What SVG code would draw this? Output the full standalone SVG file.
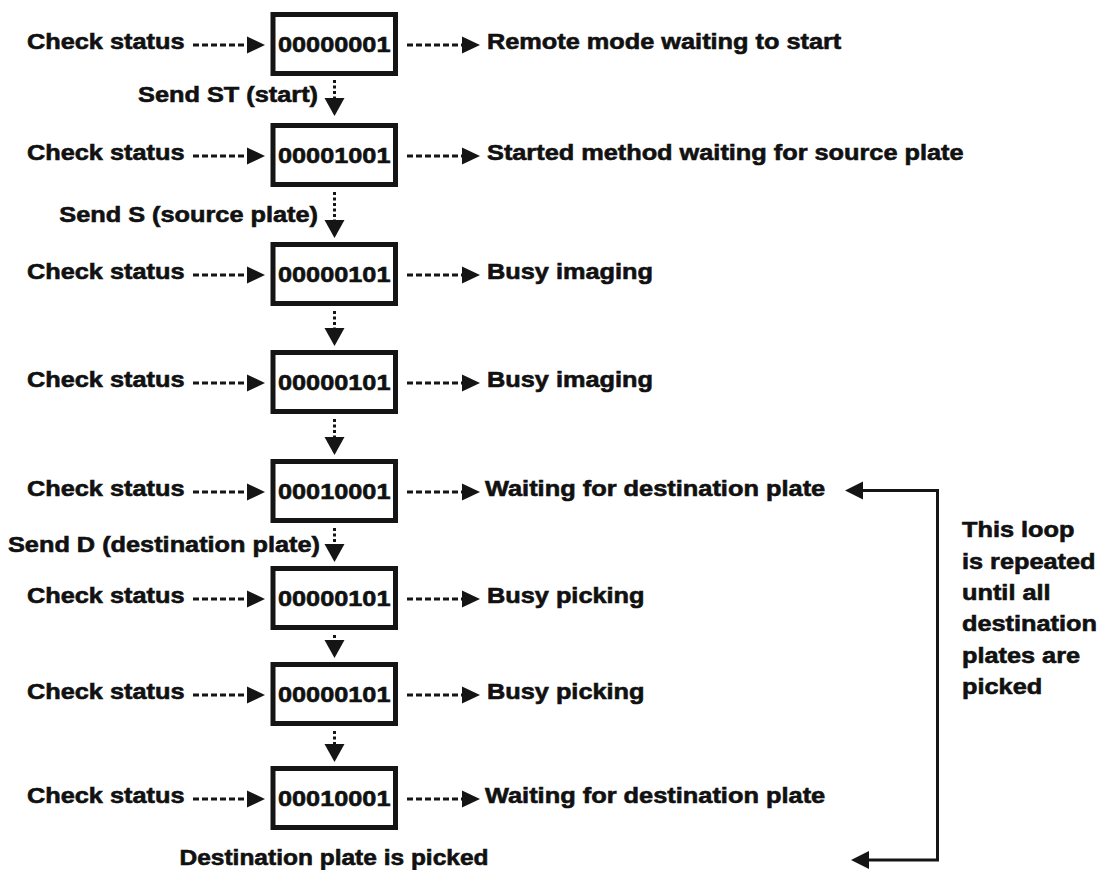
<svg xmlns="http://www.w3.org/2000/svg" width="1101" height="870" viewBox="0 0 1101 870">
<defs>
<style>
.t{font-family:"Liberation Sans",Arial,sans-serif;font-weight:bold;font-size:22px;fill:#111;stroke:#111;stroke-width:0.6}
.box{fill:#fff;stroke:#151515;stroke-width:5}
.dh{fill:none;stroke:#151515;stroke-width:3;stroke-dasharray:6 3}
.dv{fill:none;stroke:#151515;stroke-width:3;stroke-dasharray:3 2.5}
.loop{fill:none;stroke:#151515;stroke-width:3}
</style>
<marker id="ah" markerUnits="userSpaceOnUse" markerWidth="20" markerHeight="20" refX="0" refY="8.5" orient="auto" overflow="visible"><path d="M0,0 L18,8.5 L0,17 Z" fill="#151515"/></marker>
<marker id="av" markerUnits="userSpaceOnUse" markerWidth="20" markerHeight="22" refX="0" refY="10" orient="auto" overflow="visible"><path d="M0,0 L18,10 L0,20 Z" fill="#151515"/></marker>
</defs>
<rect width="1101" height="870" fill="#fff"/>

<g id="connectors">
<path class="dh" d="M193,45 H247" marker-end="url(#ah)"/>
<path class="dh" d="M193,156 H247" marker-end="url(#ah)"/>
<path class="dh" d="M193,275 H247" marker-end="url(#ah)"/>
<path class="dh" d="M193,383 H247" marker-end="url(#ah)"/>
<path class="dh" d="M193,492 H247" marker-end="url(#ah)"/>
<path class="dh" d="M193,599 H247" marker-end="url(#ah)"/>
<path class="dh" d="M193,695 H247" marker-end="url(#ah)"/>
<path class="dh" d="M193,799 H247" marker-end="url(#ah)"/>
<path class="dh" d="M407,45 H462" marker-end="url(#ah)"/>
<path class="dh" d="M407,156 H462" marker-end="url(#ah)"/>
<path class="dh" d="M407,275 H462" marker-end="url(#ah)"/>
<path class="dh" d="M407,383 H462" marker-end="url(#ah)"/>
<path class="dh" d="M407,492 H462" marker-end="url(#ah)"/>
<path class="dh" d="M407,599 H462" marker-end="url(#ah)"/>
<path class="dh" d="M407,695 H462" marker-end="url(#ah)"/>
<path class="dh" d="M407,799 H462" marker-end="url(#ah)"/>
<path class="dv" d="M334.5,80 V98" marker-end="url(#av)"/>
<path class="dv" d="M334.5,192 V220" marker-end="url(#av)"/>
<path class="dv" d="M334.5,311 V328" marker-end="url(#av)"/>
<path class="dv" d="M334.5,419 V437" marker-end="url(#av)"/>
<path class="dv" d="M334.5,528 V544" marker-end="url(#av)"/>
<path class="dv" d="M334.5,635 V640" marker-end="url(#av)"/>
<path class="dv" d="M334.5,731 V744" marker-end="url(#av)"/>
<path class="loop" d="M869,860 H937.5 V490.5 H863"/>
<path d="M863,481.5 L845,490.5 L863,499.5 Z" fill="#151515"/>
<path d="M869,851 L851,860 L869,869 Z" fill="#151515"/>
</g>

<g id="node1">
<text class="t" x="27" y="49" textLength="157.5" lengthAdjust="spacingAndGlyphs">Check status</text>
<rect class="box" x="273" y="14.5" width="122.5" height="59"/>
<text class="t" x="278" y="52" textLength="112.5" lengthAdjust="spacingAndGlyphs">00000001</text>
<text class="t" x="487" y="49" textLength="354.3" lengthAdjust="spacingAndGlyphs">Remote mode waiting to start</text>
</g>
<g id="label-st">
<text class="t" x="318" y="102" text-anchor="end" textLength="180" lengthAdjust="spacingAndGlyphs">Send ST (start)</text>
</g>
<g id="node2">
<text class="t" x="27" y="160" textLength="157.5" lengthAdjust="spacingAndGlyphs">Check status</text>
<rect class="box" x="273" y="125.5" width="122.5" height="59"/>
<text class="t" x="278" y="163" textLength="112.5" lengthAdjust="spacingAndGlyphs">00001001</text>
<text class="t" x="487" y="160" textLength="476.6" lengthAdjust="spacingAndGlyphs">Started method waiting for source plate</text>
</g>
<g id="label-s">
<text class="t" x="318" y="222" text-anchor="end" textLength="258.7" lengthAdjust="spacingAndGlyphs">Send S (source plate)</text>
</g>
<g id="node3">
<text class="t" x="27" y="279" textLength="157.5" lengthAdjust="spacingAndGlyphs">Check status</text>
<rect class="box" x="273" y="244.5" width="122.5" height="59"/>
<text class="t" x="278" y="282" textLength="112.5" lengthAdjust="spacingAndGlyphs">00000101</text>
<text class="t" x="487" y="279" textLength="165.9" lengthAdjust="spacingAndGlyphs">Busy imaging</text>
</g>
<g id="node4">
<text class="t" x="27" y="387" textLength="157.5" lengthAdjust="spacingAndGlyphs">Check status</text>
<rect class="box" x="273" y="352.5" width="122.5" height="59"/>
<text class="t" x="278" y="390" textLength="112.5" lengthAdjust="spacingAndGlyphs">00000101</text>
<text class="t" x="487" y="387" textLength="165.9" lengthAdjust="spacingAndGlyphs">Busy imaging</text>
</g>
<g id="node5">
<text class="t" x="27" y="496" textLength="157.5" lengthAdjust="spacingAndGlyphs">Check status</text>
<rect class="box" x="273" y="461.5" width="122.5" height="59"/>
<text class="t" x="278" y="499" textLength="112.5" lengthAdjust="spacingAndGlyphs">00010001</text>
<text class="t" x="485" y="496" textLength="340.2" lengthAdjust="spacingAndGlyphs">Waiting for destination plate</text>
</g>
<g id="label-d">
<text class="t" x="320" y="552" text-anchor="end" textLength="312" lengthAdjust="spacingAndGlyphs">Send D (destination plate)</text>
</g>
<g id="node6">
<text class="t" x="27" y="603" textLength="157.5" lengthAdjust="spacingAndGlyphs">Check status</text>
<rect class="box" x="273" y="568.5" width="122.5" height="59"/>
<text class="t" x="278" y="606" textLength="112.5" lengthAdjust="spacingAndGlyphs">00000101</text>
<text class="t" x="487" y="603" textLength="157.5" lengthAdjust="spacingAndGlyphs">Busy picking</text>
</g>
<g id="node7">
<text class="t" x="27" y="699" textLength="157.5" lengthAdjust="spacingAndGlyphs">Check status</text>
<rect class="box" x="273" y="664.5" width="122.5" height="59"/>
<text class="t" x="278" y="702" textLength="112.5" lengthAdjust="spacingAndGlyphs">00000101</text>
<text class="t" x="487" y="699" textLength="157.5" lengthAdjust="spacingAndGlyphs">Busy picking</text>
</g>
<g id="node8">
<text class="t" x="27" y="803" textLength="157.5" lengthAdjust="spacingAndGlyphs">Check status</text>
<rect class="box" x="273" y="768.5" width="122.5" height="59"/>
<text class="t" x="278" y="806" textLength="112.5" lengthAdjust="spacingAndGlyphs">00010001</text>
<text class="t" x="485" y="803" textLength="340.2" lengthAdjust="spacingAndGlyphs">Waiting for destination plate</text>
</g>
<g id="label-picked">
<text class="t" x="334" y="865" text-anchor="middle" textLength="309" lengthAdjust="spacingAndGlyphs">Destination plate is picked</text>
</g>
<g id="loop-note">
<text class="t" x="962" y="537" textLength="112.5" lengthAdjust="spacingAndGlyphs">This loop</text>
<text class="t" x="962" y="569" textLength="133.5" lengthAdjust="spacingAndGlyphs">is repeated</text>
<text class="t" x="962" y="600" textLength="88.6" lengthAdjust="spacingAndGlyphs">until all</text>
<text class="t" x="962" y="631" textLength="135" lengthAdjust="spacingAndGlyphs">destination</text>
<text class="t" x="962" y="663" textLength="118.1" lengthAdjust="spacingAndGlyphs">plates are</text>
<text class="t" x="962" y="694" textLength="80.2" lengthAdjust="spacingAndGlyphs">picked</text>
</g>
</svg>
